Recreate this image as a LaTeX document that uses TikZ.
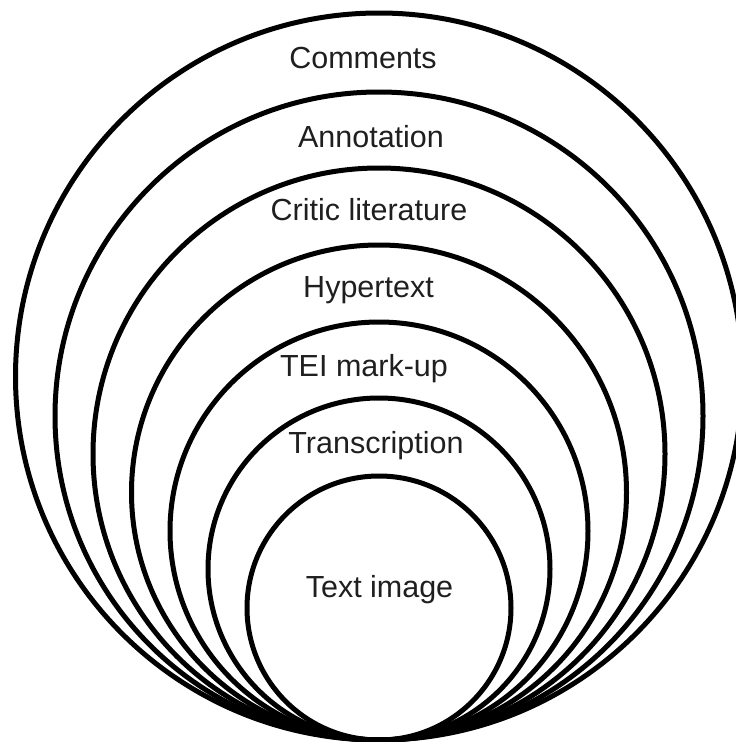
\documentclass[tikz,border=0pt]{standalone}
\usepackage{fontspec}
\setmainfont{Liberation Sans}
\begin{document}
\begin{tikzpicture}[x=1pt,y=1pt,
  ring/.style={circle,draw=black,line width=5pt,inner sep=0pt,outer sep=0pt,minimum size=#1},
  lbl/.style={anchor=base,font=\fontsize{30.5}{32}\selectfont,text=black!88,inner sep=0pt}]
\useasboundingbox (0,0) rectangle (736,-742);
\clip (0,0) rectangle (736,-742);
\node[ring=727pt] (c1) at (379,-376.5) {};
\node[ring=648pt] (c2) at (379,-416) {};
\node[ring=572pt] (c3) at (379,-454) {};
\node[ring=495pt] (c4) at (379,-492.5) {};
\node[ring=418pt] (c5) at (379,-531) {};
\node[ring=342pt] (c6) at (379,-569) {};
\node[ring=264pt] (c7) at (379,-608) {};
\node[lbl] (t1) at (363,-68) {Comments};
\node[lbl] (t2) at (371,-147) {Annotation};
\node[lbl] (t3) at (369,-220) {Critic literature};
\node[lbl] (t4) at (368.5,-297) {Hypertext};
\node[lbl] (t5) at (364,-376) {TEI mark-up};
\node[lbl] (t6) at (376,-453) {Transcription};
\node[lbl] (t7) at (379.5,-597) {Text image};
\end{tikzpicture}
\end{document}
